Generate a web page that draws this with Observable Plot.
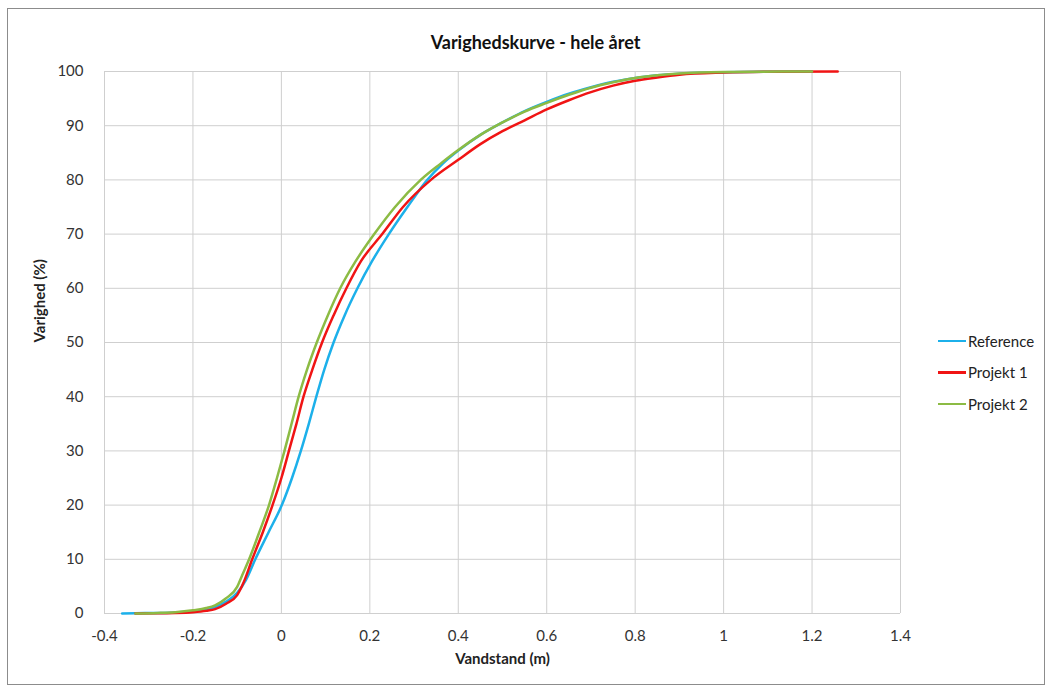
<!DOCTYPE html>
<html>
<head>
<meta charset="utf-8">
<script src="https://cdn.jsdelivr.net/npm/d3@7"></script>
<script src="https://cdn.jsdelivr.net/npm/@observablehq/plot@0.6"></script>
<style>
  html, body { margin: 0; padding: 0; background: #fff; }
  #wrap { position: relative; width: 1053px; height: 693px; font-family: Lato, "Open Sans", sans-serif; }
  #frame { position: absolute; left: 7px; top: 8px; width: 1038px; height: 677px; border: 1px solid #8c8c8c; box-sizing: border-box; pointer-events: none; }
  #chart { position: absolute; left: 0; top: 0; }
  #legend { position: absolute; left: 938px; top: 325px; font-size: 15px; color: #222; }
  .item { display: flex; align-items: center; height: 31.5px; }
  .sw { width: 28px; height: 2.5px; margin-right: 2px; }
</style>
</head>
<body>
<div id="wrap">
  <div id="chart"></div>
  <div id="frame"></div>
  <div id="legend"></div>
</div>
<script>
const seriesNames = ["Reference", "Projekt 1", "Projekt 2"];
const seriesColors = ["#1cb0ea", "#f01414", "#8cbb44"];
const xTicks = [-0.4, -0.2, 0, 0.2, 0.4, 0.6, 0.8, 1, 1.2, 1.4];
const yTicks = [0, 10, 20, 30, 40, 50, 60, 70, 80, 90, 100];

const refX = [-0.36, -0.33, -0.28, -0.24, -0.2, -0.17, -0.15, -0.125, -0.1, -0.08, -0.059, -0.029, 0.001, 0.024, 0.044, 0.062, 0.079, 0.097, 0.118, 0.143, 0.172, 0.205, 0.243, 0.285, 0.33, 0.365, 0.4, 0.45, 0.5, 0.55, 0.6, 0.65, 0.7, 0.75, 0.8, 0.85, 0.9, 1.0, 1.1, 1.2];
const refY = [0, 0.05, 0.1, 0.2, 0.4, 0.8, 1.2, 2.2, 3.8, 6.2, 10, 15, 20, 25, 30, 35, 40, 45, 50, 55, 60, 65, 70, 75, 80, 83, 85.4, 88.3, 90.6, 92.7, 94.4, 95.9, 97.1, 98.1, 98.8, 99.3, 99.6, 99.85, 99.95, 100];

const p1X = [-0.33, -0.28, -0.24, -0.2, -0.17, -0.15, -0.125, -0.1, -0.085, -0.066, -0.042, -0.02, 0.0, 0.017, 0.034, 0.05, 0.07, 0.092, 0.118, 0.147, 0.18, 0.228, 0.275, 0.338, 0.4, 0.45, 0.5, 0.55, 0.6, 0.65, 0.7, 0.75, 0.8, 0.85, 0.9, 1.0, 1.1, 1.258];
const p1Y = [0, 0.05, 0.1, 0.25, 0.5, 0.8, 1.8, 3.4, 5.8, 10, 15, 20, 25, 30, 35, 40, 45, 50, 55, 60, 65, 70, 75, 80, 83.7, 86.6, 89, 91, 93, 94.7, 96.2, 97.4, 98.3, 98.9, 99.4, 99.8, 99.95, 100];

const p2X = [-0.33, -0.28, -0.24, -0.2, -0.17, -0.15, -0.125, -0.1, -0.09, -0.073, -0.05, -0.028, -0.01, 0.007, 0.023, 0.039, 0.058, 0.08, 0.105, 0.133, 0.168, 0.21, 0.257, 0.315, 0.36, 0.4, 0.45, 0.5, 0.55, 0.6, 0.65, 0.7, 0.75, 0.8, 0.85, 0.9, 1.0, 1.2];
const p2Y = [0, 0.1, 0.25, 0.6, 1.0, 1.5, 2.8, 4.9, 6.8, 10, 15, 20, 25, 30, 35, 40, 45, 50, 55, 60, 65, 70, 75, 80, 83, 85.5, 88.3, 90.6, 92.6, 94.2, 95.7, 97, 98, 98.8, 99.3, 99.65, 99.9, 100];

const seriesX = [refX, p1X, p2X];
const seriesY = [refY, p1Y, p2Y];
const data = [];
seriesNames.forEach((name, i) => {
  seriesX[i].forEach((x, j) => data.push({series: name, x, y: seriesY[i][j]}));
});

const fmt = d => String(+d.toFixed(1));

const chart = Plot.plot({
  width: 1053,
  height: 693,
  marginLeft: 104,
  marginRight: 153,
  marginTop: 71,
  marginBottom: 80,
  style: { fontFamily: "Lato, 'Open Sans', sans-serif", fontSize: "15px", color: "#333", background: "transparent" },
  x: { domain: [-0.4, 1.4] },
  y: { domain: [0, 100] },
  color: { domain: seriesNames, range: seriesColors },
  marks: [
    Plot.gridX(xTicks, { stroke: "#cfcfcf", strokeOpacity: 1, strokeWidth: 1 }),
    Plot.gridY(yTicks, { stroke: "#cfcfcf", strokeOpacity: 1, strokeWidth: 1 }),
    Plot.axisX(xTicks, { tickSize: 0, tickPadding: 17, tickFormat: fmt, label: null, fill: "#333" }),
    Plot.axisY(yTicks, { tickSize: 0, tickPadding: 21, tickFormat: fmt, label: null, fill: "#333" }),
    Plot.line(data, { x: "x", y: "y", z: "series", stroke: "series", strokeWidth: 2.5, curve: "monotone-x" }),
    Plot.text(["Varighedskurve - hele året"], { frameAnchor: "top", dx: 33, dy: -35, fontWeight: "bold", fontSize: 18, fill: "#111" }),
    Plot.text(["Vandstand (m)"], { frameAnchor: "bottom", dy: 50, fontWeight: "bold", fontSize: 15, fill: "#222" }),
    Plot.text(["Varighed (%)"], { frameAnchor: "left", dx: -64, rotate: -90, fontWeight: "bold", fontSize: 15, fill: "#222" })
  ]
});
document.getElementById("chart").appendChild(chart);

const legend = d3.select("#legend");
seriesNames.forEach((name, i) => {
  const it = legend.append("div").attr("class", "item");
  it.append("div").attr("class", "sw").style("background", seriesColors[i]);
  it.append("span").text(name);
});
</script>
</body>
</html>
